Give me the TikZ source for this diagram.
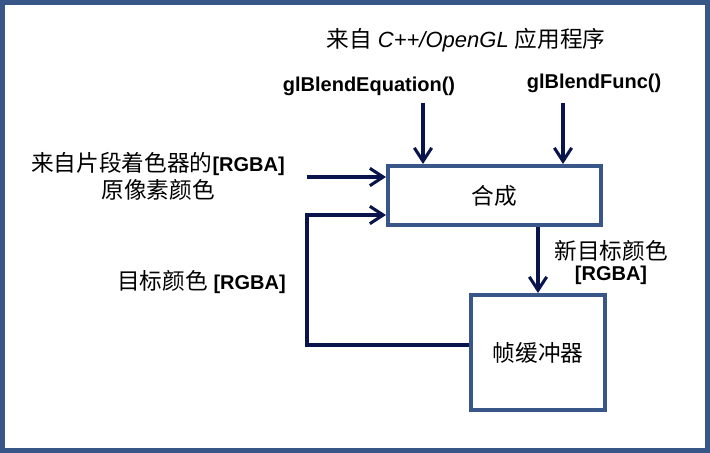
\documentclass[tikz,border=0pt]{standalone}
\usepackage{fontspec}
\setmainfont{Liberation Sans}
\newfontfamily\cjk{Noto Sans CJK SC}
\usepackage{xcolor}
\usetikzlibrary{arrows.meta}
\definecolor{framecol}{RGB}{56,86,136}
\definecolor{arrowcol}{RGB}{10,20,76}
\newcommand{\zh}[1]{{\cjk\mdseries\fontsize{17}{20}\selectfont #1}}

\begin{document}
\begin{tikzpicture}[x=0.75pt,y=0.75pt,yscale=-1,xscale=1,
  blockbox/.style={draw=framecol,line width=3pt,fill=white,inner sep=0pt},
  flowline/.style={draw=arrowcol,line width=2.3pt,-{Straight Barb[length=10pt,width=13pt]}},
  labeltext/.style={inner sep=0.75pt,font=\fontsize{15}{18}\selectfont\bfseries}]
\useasboundingbox (0,0) rectangle (710,453);

%Shape: Rectangle [id:frame] 
\draw [framecol,line width=3.4pt] (2.25,2.25) rectangle (707.75,450.75);

%Shape: Rectangle [id:comp] 
\draw (494.5,195.5) node (comp) [blockbox,minimum width=159.75pt,minimum height=44.25pt] {\zh{合成}};
%Shape: Rectangle [id:fb] 
\draw (538,352.5) node (fb) [blockbox,minimum width=100.5pt,minimum height=86.25pt] {\zh{帧缓冲器}};

%Straight Lines [id:eq] 
\coordinate (eqs) at (423,103);
\draw [flowline] (eqs) -- (eqs |- comp.north);
%Straight Lines [id:fn] 
\coordinate (fns) at (563,103);
\draw [flowline] (fns) -- (fns |- comp.north);
%Straight Lines [id:src] 
\coordinate (srcs) at (307,177);
\draw [flowline] (srcs) -- (srcs -| comp.west);
%Straight Lines [id:ret] 
\coordinate (ret) at (307,345);
\draw [flowline] (ret -| fb.west) -- (ret) |- (comp.west |- 0,215);
%Straight Lines [id:new] 
\draw [flowline] (fb.north |- comp.south) -- (fb.north);

% Text Node
\draw (466,40) node (title) [inner sep=0.75pt,font=\fontsize{16.5}{20}\selectfont] {\zh{来自} \textit{C++/OpenGL} \zh{应用程序}};
% Text Node
\draw (369,86) node (eqlbl) [labeltext] {glBlendEquation()};
% Text Node
\draw (594,83) node (fnlbl) [labeltext] {glBlendFunc()};
% Text Node
\draw (158,176) node (srclbl) [labeltext,align=center,font=\fontsize{15}{20.25}\selectfont\bfseries] {\zh{来自片段着色器的}[RGBA]\\\zh{原像素颜色}};
% Text Node
\draw (201.5,282) node (dstlbl) [labeltext] {\zh{目标颜色} [RGBA]};
% Text Node
\draw (611,262.5) node (newlbl) [labeltext,align=center,font=\fontsize{15}{15.75}\selectfont\bfseries] {\zh{新目标颜色}\\{}[RGBA]};

\end{tikzpicture}
\end{document}
